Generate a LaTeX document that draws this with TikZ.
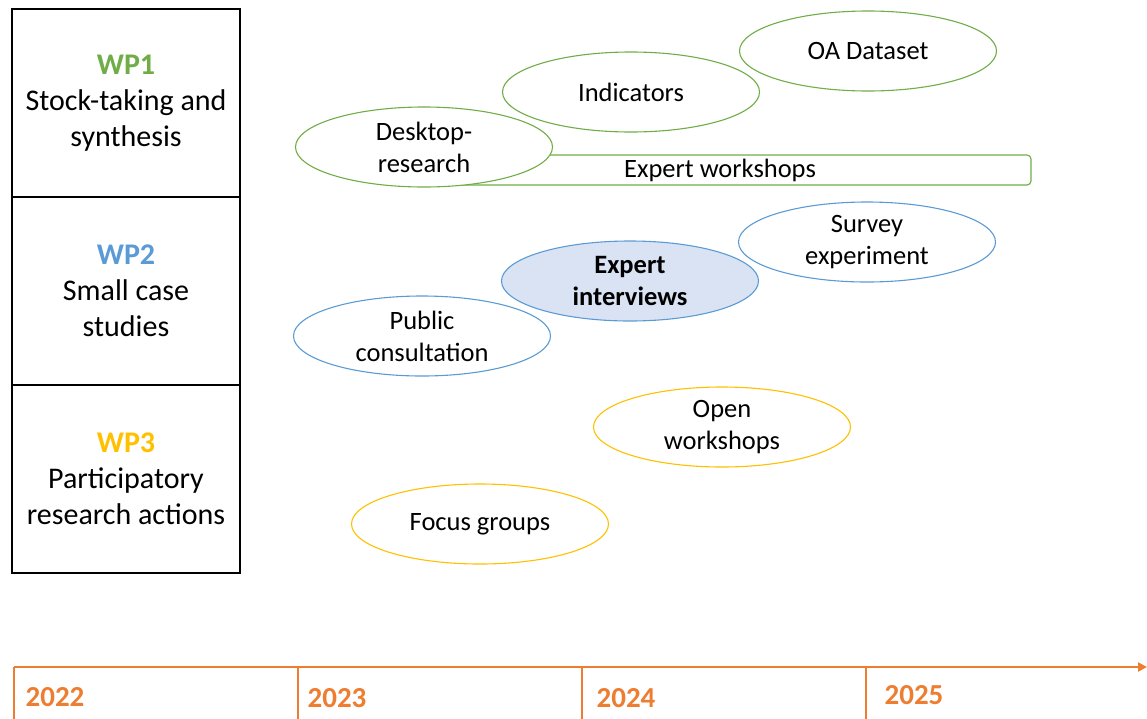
\documentclass[tikz,border=0pt]{standalone}
\usepackage{fontspec}
\setmainfont{Carlito}
\definecolor{WPGreen}{HTML}{70AD47}
\definecolor{WPBlue}{HTML}{5B9BD5}
\definecolor{WPYellow}{HTML}{FFC000}
\definecolor{TimeOrange}{HTML}{ED7D31}
\definecolor{InterviewFill}{HTML}{DAE3F3}
\usetikzlibrary{shapes.geometric, arrows.meta, positioning}
\tikzset{
  wpbox/.style={rectangle, draw=black, line width=1.3pt, minimum width=228pt, minimum height=188pt, align=center, inner sep=0pt, font=\fontsize{30}{36}\selectfont},
  taskbox/.style={ellipse, fill=white, line width=1.1pt, minimum width=257pt, minimum height=80pt, inner sep=0pt, align=center, font=\fontsize{26.5}{32}\selectfont},
  greentask/.style={taskbox, draw=WPGreen},
  bluetask/.style={taskbox, draw=WPBlue},
  yellowtask/.style={taskbox, draw=WPYellow},
  workshopbar/.style={rectangle, rounded corners=4pt, draw=WPGreen, line width=1.1pt, minimum width=622pt, minimum height=30pt, inner sep=0pt, font=\fontsize{26.5}{32}\selectfont},
  timeline/.style={draw=TimeOrange, line width=2.5pt},
  yearlabel/.style={text=TimeOrange, font=\fontsize{29}{32}\selectfont\bfseries}
}

\begin{document}
\begin{tikzpicture}[x=1pt, y=-1pt]
  \useasboundingbox (0,0) rectangle (1147,718);

  % Work packages
  \node[wpbox] (wp1) at (126,103) {\textcolor{WPGreen}{\bfseries WP1}\\Stock-taking and\\synthesis};
  \node[wpbox] (wp2) at (126,291) {\textcolor{WPBlue}{\bfseries WP2}\\Small case\\studies};
  \node[wpbox] (wp3) at (126,479) {\textcolor{WPYellow}{\bfseries WP3}\\Participatory\\research actions};

  % WP1 tasks
  \node[workshopbar] (expws) at (720,170) {Expert workshops};
  \node[greentask] (oadata) at (868,51) {OA Dataset};
  \node[greentask] (indic) at (631,92) {Indicators};
  \node[greentask] (desk) at (424,147) {Desktop-\\research};

  % WP2 tasks
  \node[bluetask] (survey) at (867,242) {Survey\\experiment};
  \node[bluetask, fill=InterviewFill, font=\fontsize{26.5}{32}\selectfont\bfseries] (interv) at (630,281) {Expert\\interviews};
  \node[bluetask] (pubcons) at (422,336) {Public\\consultation};

  % WP3 tasks
  \node[yellowtask] (openws) at (722,427) {Open\\workshops};
  \node[yellowtask] (focus) at (480,524) {Focus groups};

  % Timeline
  \coordinate (tlstart) at (14,667);
  \coordinate (tlend) at (1147,667);
  \draw[timeline, -{Triangle[length=9pt, width=9pt]}] (tlstart) -- (tlend);
  \foreach \x/\yr in {14/2022, 298/2023, 582/2024, 866/2025} {
    \coordinate (tick\yr) at (\x,667);
    \draw[timeline] (tick\yr) -- ++(0,52);
  }
  \node[yearlabel] (y2022) at (55,697) {2022};
  \node[yearlabel] (y2023) at (337,698) {2023};
  \node[yearlabel] (y2024) at (626,698) {2024};
  \node[yearlabel] (y2025) at (914,695) {2025};
\end{tikzpicture}
\end{document}
